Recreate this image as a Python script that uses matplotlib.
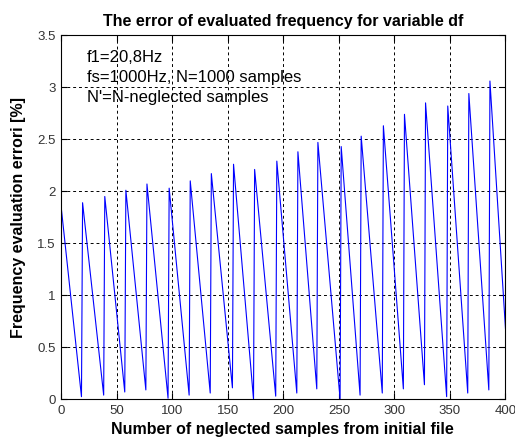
import matplotlib
matplotlib.use('Agg')
import matplotlib.pyplot as plt

# vertices of the sawtooth (neglected samples, error %)
start = (0, 1.82)
end = (400, 0.68)
peak_n = [19, 39, 58, 77, 97, 116, 135, 155, 174, 194,
          213, 231, 252, 270, 290, 309, 328, 348, 367, 386]
peak_err = [1.89, 1.95, 2.01, 2.07, 2.03, 2.10, 2.17, 2.26, 2.21, 2.29,
            2.38, 2.47, 2.43, 2.53, 2.63, 2.74, 2.85, 2.82, 2.94, 3.06]
trough_err = [0.025, 0.04, 0.07, 0.09, 0.01, 0.04, 0.06, 0.11, 0.0, 0.03,
              0.06, 0.10, 0.0, 0.04, 0.06, 0.10, 0.14, 0.025, 0.06, 0.09]

xticks = [0, 50, 100, 150, 200, 250, 300, 350, 400]
yticks = [0, 0.5, 1, 1.5, 2, 2.5, 3, 3.5]
ytick_labels = ['0', '0.5', '1', '1.5', '2', '2.5', '3', '3.5']

notes = ['f1=20,8Hz', 'fs=1000Hz, N=1000 samples', "N'=N-neglected samples"]


def main():
    plt.rcParams['font.family'] = ['Liberation Sans', 'DejaVu Sans']

    # build the line: each tooth drops to a trough one sample before the jump
    xs = [start[0]]
    ys = [start[1]]
    for n, pk, tr in zip(peak_n, peak_err, trough_err):
        xs += [n - 1, n]
        ys += [tr, pk]
    xs.append(end[0])
    ys.append(end[1])

    fig = plt.figure(figsize=(5.15, 4.41), dpi=100)
    ax = fig.add_axes([0.1194, 0.0946, 0.8621, 0.8254])
    ax.plot(xs, ys, color='#0000ff', linewidth=0.8)

    ax.set_xlim(0, 400)
    ax.set_ylim(0, 3.5)
    ax.set_xticks(xticks)
    ax.set_xticklabels([str(t) for t in xticks])
    ax.set_yticks(yticks)
    ax.set_yticklabels(ytick_labels)
    ax.tick_params(direction='in', length=4, labelsize=9.5, pad=4,
                   top=True, right=True, labelcolor='#333333')
    ax.grid(True, color='black', linestyle=(0, (3, 3)), linewidth=0.7)
    for sp in ax.spines.values():
        sp.set_linewidth(0.8)

    ax.set_title('The error of evaluated frequency for variable df',
                 fontsize=11.5, fontweight='bold', pad=7)

    for i, s in enumerate(notes):
        ax.text(22.7, 3.246 - i * 0.192, s, fontsize=12, va='baseline')

    fig.text(282 / 515, 1 - 434 / 441,
             'Number of neglected samples from initial file',
             fontsize=11.5, fontweight='bold', ha='center', va='baseline')
    fig.text(19 / 515, 1 - 218 / 441, 'Frequency evaluation errori [%]',
             fontsize=11.5, fontweight='bold', ha='center', va='center',
             rotation=90)

    fig.savefig('out.png', dpi=100)


if __name__ == '__main__':
    main()
